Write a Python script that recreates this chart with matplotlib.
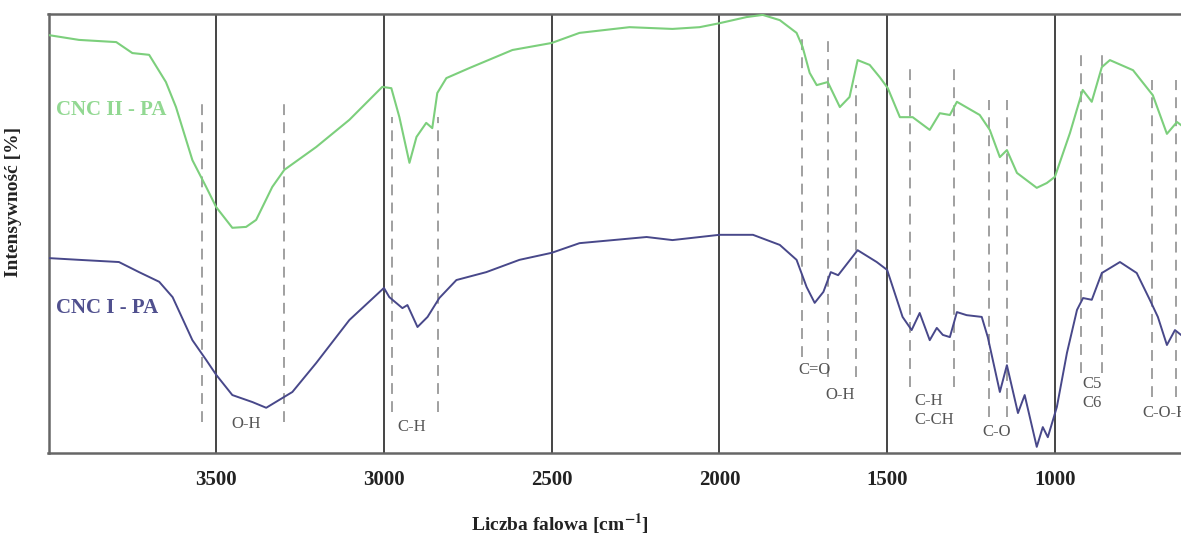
import numpy as np
import matplotlib
matplotlib.use('Agg')
import matplotlib.pyplot as plt

plt.rcParams['font.family'] = ['Liberation Serif', 'DejaVu Serif']
plt.rcParams['mathtext.fontset'] = 'stix'

# CNC II - PA (green, upper trace)
wn_ii = [4000, 3909, 3798, 3750, 3700, 3650, 3620, 3571, 3530, 3500, 3452, 3411,
         3381, 3333, 3297, 3202, 3103, 3005, 2978, 2954, 2924, 2903, 2874, 2856,
         2841, 2814, 2745, 2617, 2500, 2417, 2268, 2140, 2059, 2000, 1919, 1871,
         1820, 1770, 1752, 1731, 1710, 1677, 1641, 1612, 1588, 1552, 1522, 1498,
         1462, 1424, 1373, 1343, 1313, 1292, 1224, 1194, 1164, 1143, 1113, 1054,
         1024, 1000, 955, 917, 890, 860, 836, 767, 708, 666, 636, 624]
int_ii = [95.2, 94.1, 93.6, 91.1, 90.7, 84.5, 78.8, 66.7, 60.6, 56.0, 51.3, 51.5,
          53.1, 60.6, 64.5, 69.7, 75.9, 83.4, 83.1, 76.5, 66.1, 72.0, 75.2, 74.0,
          82.0, 85.4, 87.7, 91.8, 93.4, 95.7, 97.0, 96.6, 97.0, 97.9, 99.3, 99.8,
          98.6, 95.7, 92.5, 86.6, 83.8, 84.5, 78.8, 81.1, 89.5, 88.4, 85.6, 83.1,
          76.5, 76.5, 73.6, 77.4, 77.0, 80.0, 77.0, 73.6, 67.4, 69.0, 63.8, 60.4,
          61.5, 62.9, 72.9, 82.7, 80.0, 87.9, 89.5, 87.2, 81.5, 72.7, 75.4, 74.7]

# CNC I - PA (navy, lower trace)
wn_i = [4000, 3909, 3790, 3730, 3670, 3630, 3571, 3530, 3500, 3452, 3392, 3351,
        3273, 3202, 3103, 3000, 2984, 2945, 2930, 2900, 2870, 2835, 2784, 2695,
        2596, 2500, 2417, 2217, 2140, 2000, 1900, 1820, 1770, 1740, 1716, 1690,
        1668, 1646, 1588, 1531, 1500, 1454, 1427, 1403, 1373, 1352, 1334, 1313,
        1292, 1263, 1218, 1200, 1164, 1143, 1110, 1090, 1054, 1036, 1021, 994,
        964, 934, 916, 890, 860, 806, 756, 717, 693, 666, 642, 624]
int_i = [44.4, 44.0, 43.5, 41.2, 39.0, 35.5, 25.7, 21.2, 17.8, 13.2, 11.6, 10.3,
         13.9, 20.5, 30.3, 37.6, 35.5, 33.0, 33.7, 28.7, 31.0, 35.3, 39.4, 41.2,
         44.0, 45.6, 47.8, 49.2, 48.5, 49.7, 49.7, 47.4, 44.0, 37.8, 34.2, 36.7,
         41.2, 40.5, 46.2, 43.5, 41.7, 31.0, 28.0, 31.9, 25.7, 28.5, 26.9, 26.4,
         32.1, 31.4, 31.0, 26.4, 13.9, 20.0, 9.1, 13.2, 1.4, 5.9, 3.6, 10.5,
         22.8, 32.6, 35.3, 34.9, 41.0, 43.5, 41.0, 34.9, 31.0, 24.6, 28.0, 26.9]

# dashed marker lines: position, top, bottom
band_pos = [3542, 3297, 2975, 2838, 1755, 1677, 1594, 1433, 1301, 1197, 1143, 921, 860, 711, 639]
band_top = [80.4, 80.4, 76.5, 76.5, 95.7, 95.2, 83.8, 87.9, 87.9, 80.4, 80.4, 92.3, 92.3, 85.0, 85.0]
band_bot = [7.1, 7.1, 9.3, 9.3, 21.9, 17.3, 17.3, 15.0, 15.0, 8.2, 8.2, 18.2, 18.2, 12.8, 12.8]

# band labels: text, x, y, horizontal alignment
band_txt = ['O-H', 'C-H', 'C=O', 'O-H', 'C-H\nC-CH', 'C-O', 'C5\nC6', 'C-O-H']
band_x = [3410, 2918, 1716, 1641, 1418, 1173, 919, 740]
band_y = [6.6, 5.9, 18.9, 13.2, 9.6, 4.8, 13.6, 9.1]
band_ha = ['center', 'center', 'center', 'center', 'left', 'center', 'left', 'left']

grid_x = [3500, 3000, 2500, 2000, 1500, 1000]

green = '#7ccf7c'
navy = '#48488a'

fig = plt.figure(figsize=(11.81, 5.38), dpi=100)
ax = fig.add_axes([48.5 / 1181, 1 - 453 / 538, 1 - 48.5 / 1181, 439 / 538])

for g in grid_x:
    ax.axvline(g, color='#444444', lw=1.4, zorder=1)

ax.vlines(band_pos, band_bot, band_top, colors='#999999', linestyles=(0, (6, 4)), lw=1.3, zorder=1)

ax.plot(wn_ii, int_ii, color=green, lw=1.5, zorder=3)
ax.plot(wn_i, int_i, color=navy, lw=1.4, zorder=3)

ax.text(3977, 78.1, 'CNC II - PA', color='#92d892', fontsize=15, fontweight='bold', va='center', ha='left')
ax.text(3977, 33.0, 'CNC I - PA', color='#50508e', fontsize=15, fontweight='bold', va='center', ha='left')

for t, x, y, h in zip(band_txt, band_x, band_y, band_ha):
    ax.text(x, y, t, color='#555555', fontsize=12, ha=h, va='center', linespacing=1.25)

ax.set_xlim(4000, 624)
ax.set_ylim(0, 100)
ax.set_xticks(grid_x)
ax.set_xticklabels([str(g) for g in grid_x], fontsize=15, fontweight='bold', color='#222222')
ax.set_yticks([])
ax.tick_params(axis='x', length=0, pad=12)

for s in ['top', 'bottom', 'left']:
    ax.spines[s].set_color('#666666')
    ax.spines[s].set_linewidth(1.8)
ax.spines['right'].set_visible(False)

ax.set_xlabel(r'Liczba falowa [cm$^{\mathbf{-1}}$]', fontsize=14, fontweight='bold', color='#222222')
ax.xaxis.set_label_coords((560 - 48.5) / 1132.5, -(512 - 453) / 439)
ax.set_ylabel('Intensywność [%]', fontsize=14, fontweight='bold', color='#222222')
ax.yaxis.set_label_coords(-(48.5 - 22) / 1132.5, (453 - 202) / 439)

fig.savefig('out.png', dpi=100)
